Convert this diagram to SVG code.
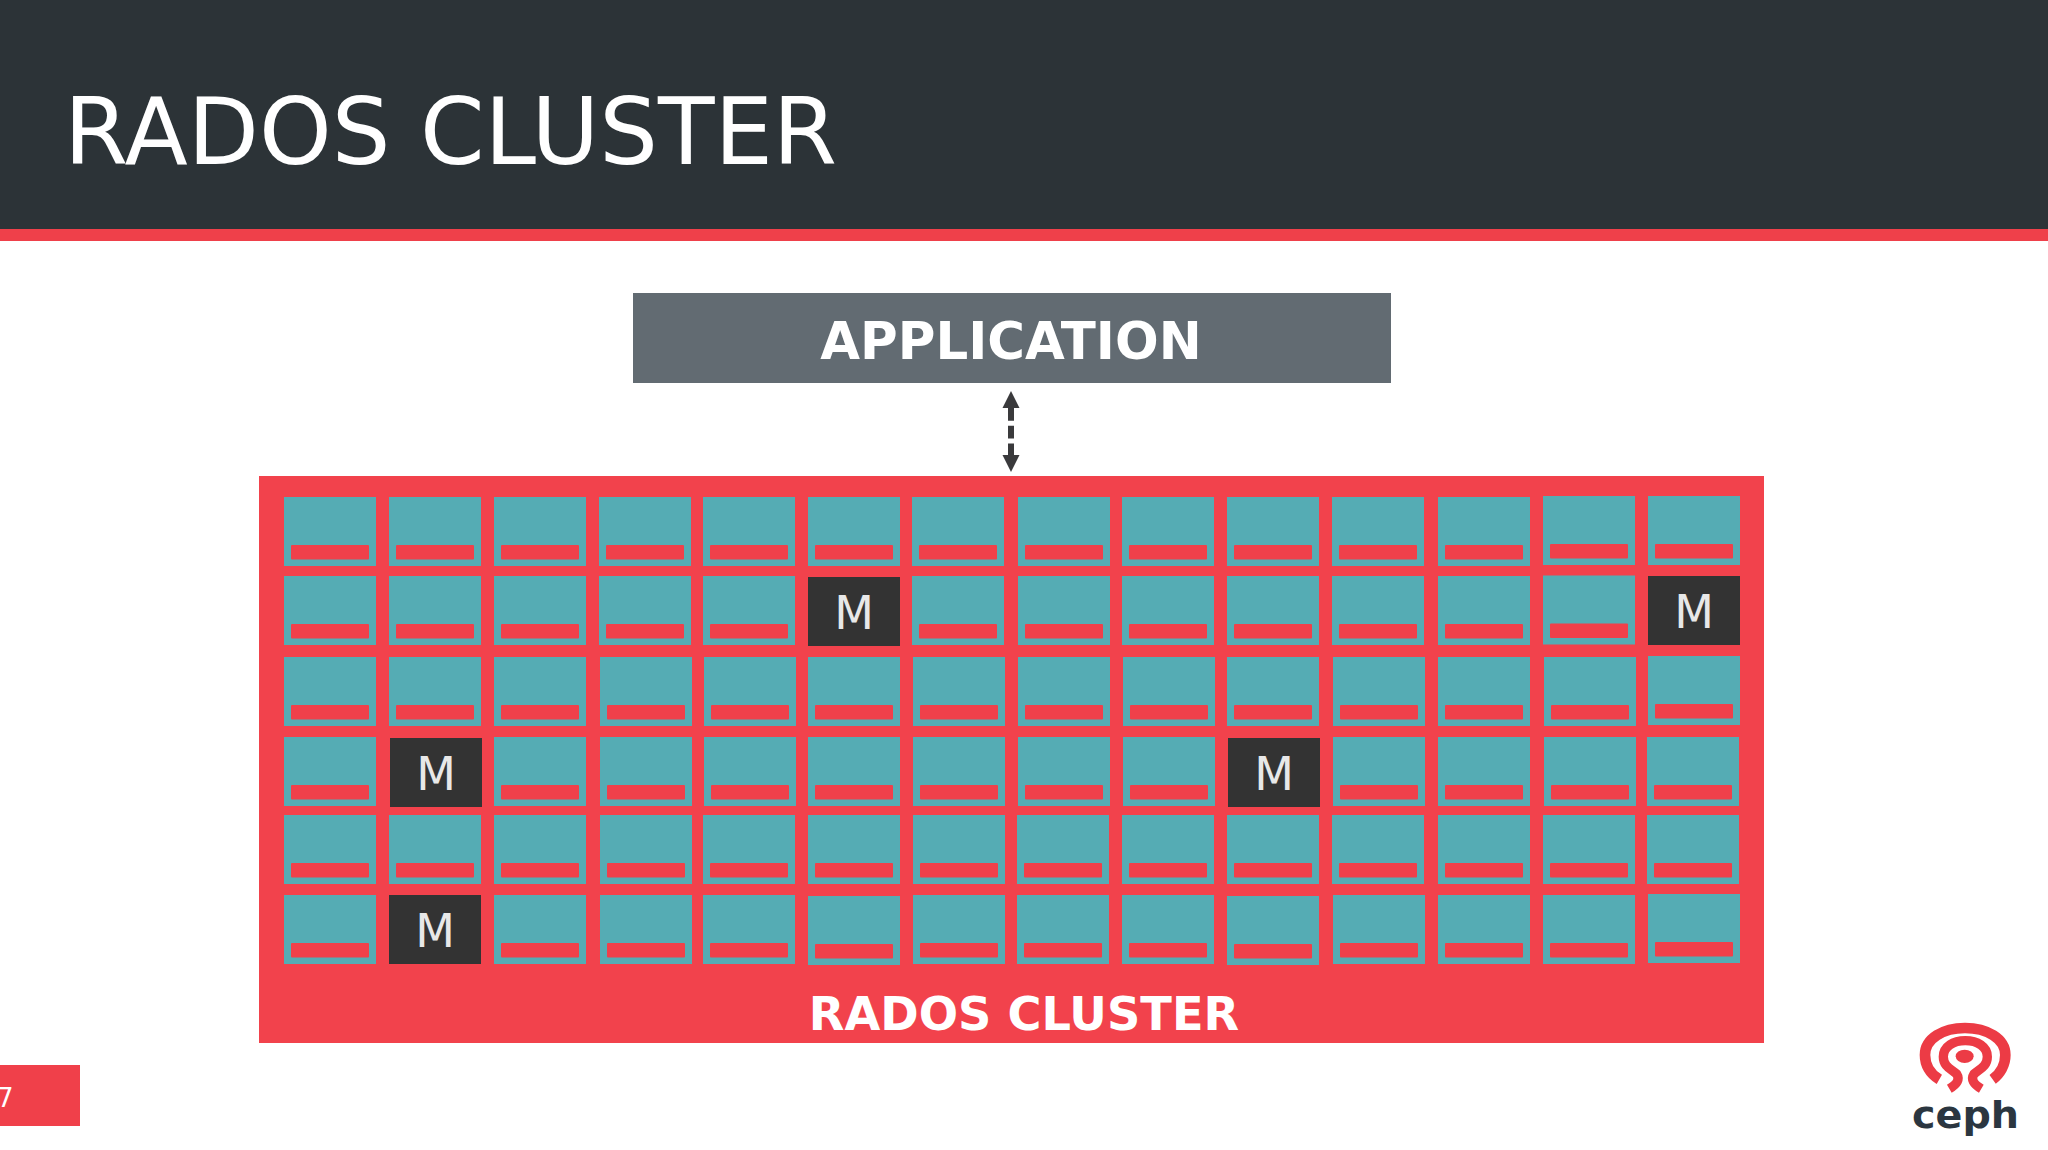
<svg xmlns="http://www.w3.org/2000/svg" width="2048" height="1150" viewBox="0 0 2048 1150">
<style>
text{font-family:"DejaVu Sans",sans-serif}
.w{fill:#fff}
.b{font-weight:700;text-anchor:middle;fill:#fff}
.m{font-size:46px;text-anchor:middle;fill:#e8e8e8}
</style>
<defs>
<g id="cell"><rect width="92" height="69" fill="#55acb4"/><rect x="7" y="48" width="78" height="14.5" rx="1" fill="#f0404a"/></g>
<rect id="mon" width="92" height="69" fill="#333333"/>
<marker id="ah" markerUnits="userSpaceOnUse" markerWidth="18" markerHeight="20" refX="0" refY="10" orient="auto-start-reverse"><path d="M0 1.5L17 10L0 18.5Z" fill="#3a3a3c"/></marker>
</defs>
<rect width="2048" height="1150" fill="#fff"/>
<g id="header"><rect width="2048" height="229" fill="#2c3337"/><rect y="229" width="2048" height="12" fill="#ef404a"/>
<text x="64" y="164" font-size="92.5" class="w">RADOS CLUSTER</text></g>
<g id="application"><rect x="633" y="293" width="758" height="90" fill="#626b72"/><text x="1011" y="359" font-size="51.4" class="b">APPLICATION</text></g>
<g id="connectors"><path d="M1011 408V455" stroke="#3a3a3c" stroke-width="6" stroke-dasharray="12.7 5" fill="none" marker-start="url(#ah)" marker-end="url(#ah)"/></g>
<g id="cluster"><rect x="259" y="476" width="1505" height="567" fill="#f2424c"/><text x="1024" y="1030" font-size="46.3" class="b">RADOS CLUSTER</text></g>
<g id="r1">
<g id="n1-1" transform="translate(284 497)"><use href="#cell"/></g><g id="n1-2" transform="translate(389 497)"><use href="#cell"/></g><g id="n1-3" transform="translate(494 497)"><use href="#cell"/></g><g id="n1-4" transform="translate(599 497)"><use href="#cell"/></g><g id="n1-5" transform="translate(703 497)"><use href="#cell"/></g><g id="n1-6" transform="translate(808 497)"><use href="#cell"/></g><g id="n1-7" transform="translate(912 497)"><use href="#cell"/></g><g id="n1-8" transform="translate(1018 497)"><use href="#cell"/></g><g id="n1-9" transform="translate(1122 497)"><use href="#cell"/></g><g id="n1-10" transform="translate(1227 497)"><use href="#cell"/></g><g id="n1-11" transform="translate(1332 497)"><use href="#cell"/></g><g id="n1-12" transform="translate(1438 497)"><use href="#cell"/></g><g id="n1-13" transform="translate(1543 496)"><use href="#cell"/></g><g id="n1-14" transform="translate(1648 496)"><use href="#cell"/></g>
</g>
<g id="r2">
<g id="n2-1" transform="translate(284 576)"><use href="#cell"/></g><g id="n2-2" transform="translate(389 576)"><use href="#cell"/></g><g id="n2-3" transform="translate(494 576)"><use href="#cell"/></g><g id="n2-4" transform="translate(599 576)"><use href="#cell"/></g><g id="n2-5" transform="translate(703 576)"><use href="#cell"/></g><g id="n2-6" transform="translate(808 577)"><use href="#mon"/><text x="46" y="52" class="m">M</text></g><g id="n2-7" transform="translate(912 576)"><use href="#cell"/></g><g id="n2-8" transform="translate(1018 576)"><use href="#cell"/></g><g id="n2-9" transform="translate(1122 576)"><use href="#cell"/></g><g id="n2-10" transform="translate(1227 576)"><use href="#cell"/></g><g id="n2-11" transform="translate(1332 576)"><use href="#cell"/></g><g id="n2-12" transform="translate(1438 576)"><use href="#cell"/></g><g id="n2-13" transform="translate(1543 575.5)"><use href="#cell"/></g><g id="n2-14" transform="translate(1648 576)"><use href="#mon"/><text x="46" y="52" class="m">M</text></g>
</g>
<g id="r3">
<g id="n3-1" transform="translate(284 657)"><use href="#cell"/></g><g id="n3-2" transform="translate(389 657)"><use href="#cell"/></g><g id="n3-3" transform="translate(494 657)"><use href="#cell"/></g><g id="n3-4" transform="translate(600 657)"><use href="#cell"/></g><g id="n3-5" transform="translate(704 657)"><use href="#cell"/></g><g id="n3-6" transform="translate(808 657)"><use href="#cell"/></g><g id="n3-7" transform="translate(913 657)"><use href="#cell"/></g><g id="n3-8" transform="translate(1018 657)"><use href="#cell"/></g><g id="n3-9" transform="translate(1123 657)"><use href="#cell"/></g><g id="n3-10" transform="translate(1227 657)"><use href="#cell"/></g><g id="n3-11" transform="translate(1333 657)"><use href="#cell"/></g><g id="n3-12" transform="translate(1438 657)"><use href="#cell"/></g><g id="n3-13" transform="translate(1544 657)"><use href="#cell"/></g><g id="n3-14" transform="translate(1648 656)"><use href="#cell"/></g>
</g>
<g id="r4">
<g id="n4-1" transform="translate(284 737)"><use href="#cell"/></g><g id="n4-2" transform="translate(390 738)"><use href="#mon"/><text x="46" y="52" class="m">M</text></g><g id="n4-3" transform="translate(494 737)"><use href="#cell"/></g><g id="n4-4" transform="translate(600 737)"><use href="#cell"/></g><g id="n4-5" transform="translate(704 737)"><use href="#cell"/></g><g id="n4-6" transform="translate(808 737)"><use href="#cell"/></g><g id="n4-7" transform="translate(913 737)"><use href="#cell"/></g><g id="n4-8" transform="translate(1018 737)"><use href="#cell"/></g><g id="n4-9" transform="translate(1123 737)"><use href="#cell"/></g><g id="n4-10" transform="translate(1228 738)"><use href="#mon"/><text x="46" y="52" class="m">M</text></g><g id="n4-11" transform="translate(1333 737)"><use href="#cell"/></g><g id="n4-12" transform="translate(1438 737)"><use href="#cell"/></g><g id="n4-13" transform="translate(1544 737)"><use href="#cell"/></g><g id="n4-14" transform="translate(1647 737)"><use href="#cell"/></g>
</g>
<g id="r5">
<g id="n5-1" transform="translate(284 815)"><use href="#cell"/></g><g id="n5-2" transform="translate(389 815)"><use href="#cell"/></g><g id="n5-3" transform="translate(494 815)"><use href="#cell"/></g><g id="n5-4" transform="translate(600 815)"><use href="#cell"/></g><g id="n5-5" transform="translate(703 815)"><use href="#cell"/></g><g id="n5-6" transform="translate(808 815)"><use href="#cell"/></g><g id="n5-7" transform="translate(913 815)"><use href="#cell"/></g><g id="n5-8" transform="translate(1017 815)"><use href="#cell"/></g><g id="n5-9" transform="translate(1122 815)"><use href="#cell"/></g><g id="n5-10" transform="translate(1227 815)"><use href="#cell"/></g><g id="n5-11" transform="translate(1332 815)"><use href="#cell"/></g><g id="n5-12" transform="translate(1438 815)"><use href="#cell"/></g><g id="n5-13" transform="translate(1543 815)"><use href="#cell"/></g><g id="n5-14" transform="translate(1647 815)"><use href="#cell"/></g>
</g>
<g id="r6">
<g id="n6-1" transform="translate(284 895)"><use href="#cell"/></g><g id="n6-2" transform="translate(389 895)"><use href="#mon"/><text x="46" y="52" class="m">M</text></g><g id="n6-3" transform="translate(494 895)"><use href="#cell"/></g><g id="n6-4" transform="translate(600 895)"><use href="#cell"/></g><g id="n6-5" transform="translate(703 895)"><use href="#cell"/></g><g id="n6-6" transform="translate(808 896)"><use href="#cell"/></g><g id="n6-7" transform="translate(913 895)"><use href="#cell"/></g><g id="n6-8" transform="translate(1017 895)"><use href="#cell"/></g><g id="n6-9" transform="translate(1122 895)"><use href="#cell"/></g><g id="n6-10" transform="translate(1227 896)"><use href="#cell"/></g><g id="n6-11" transform="translate(1333 895)"><use href="#cell"/></g><g id="n6-12" transform="translate(1438 895)"><use href="#cell"/></g><g id="n6-13" transform="translate(1543 895)"><use href="#cell"/></g><g id="n6-14" transform="translate(1648 894)"><use href="#cell"/></g>
</g>
<g id="pagenum"><rect y="1065" width="80" height="61" fill="#f0404a"/><text x="-3" y="1107" font-size="26" class="w">7</text></g>
<g id="logo"><g transform="translate(1880 1000) scale(.3333)" fill="none" stroke="#ec3b45"><path stroke-width="32" d="M178 238C150 222 135 195 135 165C135 115 190 84 255 84C320 84 376 115 376 165C376 195 360 222 338 238"/><path stroke-width="28" d="M208 266C232 252 240 238 230 222C215 208 190 200 190 170C190 140 220 122 256 122C292 122 322 140 322 170C322 200 297 208 282 222C272 238 280 252 304 266"/><ellipse cx="254" cy="169" rx="27" ry="20" fill="#ec3b45" stroke="none"/></g><text x="1912" y="1128" font-size="37.5" font-weight="700" textLength="107" lengthAdjust="spacingAndGlyphs" fill="#2b3640">ceph</text></g>
</svg>
